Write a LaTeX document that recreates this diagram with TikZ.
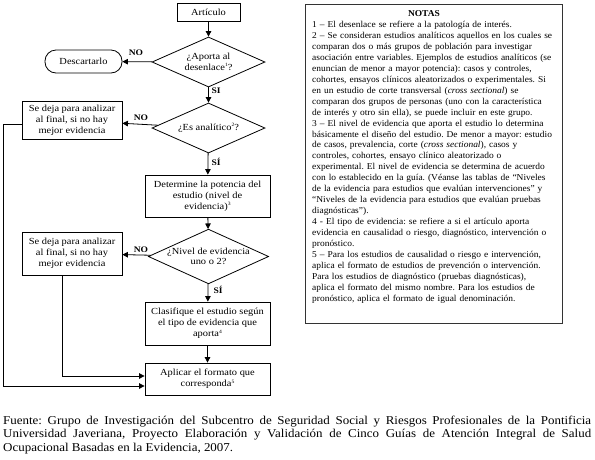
\documentclass[tikz,border=0pt]{standalone}
\usepackage{fontspec}
\setmainfont{Liberation Serif}
\newfontfamily\flowfont[FakeStretch=1.12]{Liberation Serif}
\newfontfamily\notefont[FakeStretch=1.05]{Liberation Serif}
\newfontfamily\footfont[FakeStretch=1.08]{Liberation Serif}
\newcommand{\supn}[1]{\raisebox{0.85ex}{\fontsize{5}{5}\selectfont #1}}
\frenchspacing
\usetikzlibrary{shapes.geometric,arrows.meta}
\tikzset{
  box/.style={draw, line width=0.8pt, inner sep=0pt, align=center, font=\flowfont\fontsize{9.3}{11.2}\selectfont},
  dia/.style={draw, diamond, line width=0.8pt, inner sep=0pt, align=center, minimum width=113pt, aspect=2.2, font=\flowfont\fontsize{9.3}{10.5}\selectfont},
  arr/.style={line width=0.8pt, -{Triangle[length=5.5pt,width=5.5pt]}},
  lab/.style={font=\flowfont\bfseries\fontsize{8.5}{9}\selectfont, inner sep=0pt}
}
\begin{document}
\begin{tikzpicture}[x=1pt,y=-1pt]
\useasboundingbox (0,0) rectangle (595,459);
% flowchart nodes
\node[box, minimum width=63pt, minimum height=18pt] (art) at (208.5,12) {Artículo};
\node[dia, minimum height=50pt] (d1) at (208.5,62) {¿Aporta al\\desenlace\supn{1}?};
\node[box, rounded corners=11pt, minimum width=77pt, minimum height=23pt] (desc) at (83.5,61.5) {Descartarlo};
\node[dia, minimum height=50pt] (d2) at (208.5,128) {¿Es analítico\supn{2}?};
\node[box, minimum width=100pt, minimum height=38pt] (s1) at (72,120.5) {Se deja para analizar\\al final, si no hay\\mejor evidencia};
\node[box, minimum width=125pt, minimum height=42pt] (det) at (207.5,196) {Determine la potencia del\\estudio (nivel de\\evidencia)\supn{3}};
\node[dia, minimum height=53pt] (d3) at (208.5,256.5) {¿Nivel de evidencia\\uno o 2?};
\node[box, minimum width=100pt, minimum height=43pt] (s2) at (72,253.5) {Se deja para analizar\\al final, si no hay\\mejor evidencia};
\node[box, minimum width=125pt, minimum height=43pt] (clas) at (207.5,323.5) {Clasifique el estudio según\\el tipo de evidencia que\\aporta\supn{4}};
\node[box, minimum width=125pt, minimum height=32pt] (apl) at (207.5,379) {Aplicar el formato que\\corresponda\supn{5}};
\coordinate (c1) at (3,124);
\coordinate (c2) at (3,386);
\coordinate (c3) at (62,376);
% connectors
\draw[arr] (art) -- (d1);
\draw[arr] (d1) -- (desc);
\draw[arr] (d1) -- (d2);
\draw[arr] (d2) -- (s1);
\draw[arr] (d2) -- (det);
\draw[arr] (det) -- (d3);
\draw[arr] (d3) -- (s2);
\draw[arr] (d3) -- (clas);
\draw[arr] (clas) -- (apl);
\draw[arr] (s2.south -| c3) -- (c3) -- (c3 -| apl.west);
\draw[arr] (s1.west |- c1) -- (c1) -- (c2) -- (c2 -| apl.west);
% labels
\node[lab] (no1) at (136,53) {NO};
\node[lab] (si1) at (216,91) {SI};
\node[lab] (no2) at (141,118) {NO};
\node[lab] (si2) at (216,162) {SÍ};
\node[lab] (no3) at (141,250) {NO};
\node[lab] (si3) at (218,290) {SÍ};
% notes
\node[draw, line width=0.8pt, draw=black!80, minimum width=257pt, minimum height=319pt, anchor=north west] (notes) at (305,4) {};
\node[font=\notefont\bfseries\fontsize{9}{10}\selectfont, inner sep=0pt] (notas) at (424,14) {NOTAS};
\node[anchor=north west, inner sep=0pt, text width=270pt, align=left, font=\notefont\fontsize{9}{10.95}\selectfont] (ntext) at (312,21) {%
1 – El desenlace se refiere a la patología de interés.\\
2 – Se consideran estudios analíticos aquellos en los cuales se\\
comparan dos o más grupos de población para investigar\\
asociación entre variables. Ejemplos de estudios analíticos (se\\
enuncian de menor a mayor potencia): casos y controles,\\
cohortes, ensayos clínicos aleatorizados o experimentales. Si\\
en un estudio de corte transversal (\textit{cross sectional}) se\\
comparan dos grupos de personas (uno con la característica\\
de interés y otro sin ella), se puede incluir en este grupo.\\
3 – El nivel de evidencia que aporta el estudio lo determina\\
básicamente el diseño del estudio. De menor a mayor: estudio\\
de casos, prevalencia, corte (\textit{cross sectional}), casos y\\
controles, cohortes, ensayo clínico aleatorizado o\\
experimental. El nivel de evidencia se determina de acuerdo\\
con lo establecido en la guía. (Véanse las tablas de “Niveles\\
de la evidencia para estudios que evalúan intervenciones” y\\
“Niveles de la evidencia para estudios que evalúan pruebas\\
diagnósticas”).\\
4 - El tipo de evidencia: se refiere a si el artículo aporta\\
evidencia en causalidad o riesgo, diagnóstico, intervención o\\
pronóstico.\\
5 – Para los estudios de causalidad o riesgo e intervención,\\
aplica el formato de estudios de prevención o intervención.\\
Para los estudios de diagnóstico (pruebas diagnósticas),\\
aplica el formato del mismo nombre. Para los estudios de\\
pronóstico, aplica el formato de igual denominación.};
% footer
\node[anchor=north west, inner sep=0pt, text width=588pt, align=justify, font=\footfont\fontsize{12}{13.2}\selectfont] (fuente) at (3,416) {%
Fuente: Grupo de Investigación del Subcentro de Seguridad Social y Riesgos Profesionales de la Pontificia\linebreak
Universidad Javeriana, Proyecto Elaboración y Validación de Cinco Guías de Atención Integral de Salud\linebreak
Ocupacional Basadas en la Evidencia, 2007.};
\end{tikzpicture}
\end{document}
